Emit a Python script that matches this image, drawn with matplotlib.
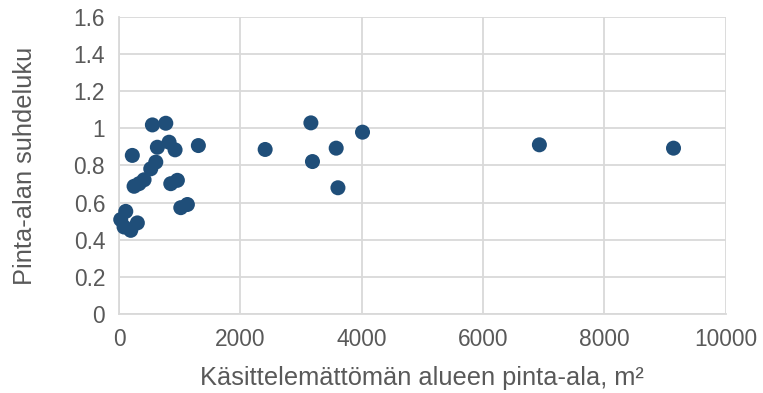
import numpy as np
import matplotlib

matplotlib.use("Agg")
import matplotlib.pyplot as plt
from matplotlib.ticker import FuncFormatter

plt.rcParams.update(
    {
        "font.family": ["Liberation Sans", "DejaVu Sans"],
    }
)

TEXT = "#595959"
GRID = "#D9D9D9"
DOT = "#1F4E79"

# Untreated area (m2) vs. area ratio
area = [
    550, 771, 1308, 219, 632, 825, 924, 606, 523, 413, 248, 330, 962, 853,
    1127, 1018, 111, 28, 302, 193, 83,
    2409, 3163, 3189, 3580, 4014, 3609, 6930, 9141,
]
ratio = [
    1.018, 1.027, 0.907, 0.854, 0.898, 0.925, 0.884, 0.818, 0.782, 0.723,
    0.688, 0.702, 0.720, 0.702, 0.590, 0.573, 0.553, 0.509, 0.491, 0.451,
    0.469,
    0.886, 1.029, 0.821, 0.893, 0.979, 0.680, 0.911, 0.893,
]

fig = plt.figure(figsize=(7.63, 3.93), dpi=100)
ax = fig.add_axes([0.156, 0.2005, 0.795, 0.757])

ax.scatter(area, ratio, s=117, color=DOT, edgecolors="none", zorder=3, clip_on=False)

ax.set_xlim(0, 10000)
ax.set_ylim(0, 1.6)
ax.set_xticks(np.arange(0, 10001, 2000))
ax.set_yticks(np.arange(0, 1.61, 0.2))
ax.yaxis.set_major_formatter(FuncFormatter(lambda v, p: f"{v:.1f}".rstrip("0").rstrip(".") if v else "0"))

ax.grid(True, color=GRID, linewidth=1.3)
ax.set_axisbelow(True)
for side in ["top", "right"]:
    ax.spines[side].set_visible(False)
for side in ["left", "bottom"]:
    ax.spines[side].set_color(GRID)
    ax.spines[side].set_linewidth(1.3)
ax.tick_params(axis="both", length=0, labelsize=16.4, colors=TEXT)
ax.tick_params(axis="x", pad=10)
ax.tick_params(axis="y", pad=10)

ax.set_xlabel("Käsittelemättömän alueen pinta-ala, m²", fontsize=18.3, color=TEXT, labelpad=11)
ax.set_ylabel("Pinta-alan suhdeluku", fontsize=18.3, color=TEXT, labelpad=26)

fig.savefig("out.png", dpi=100)
